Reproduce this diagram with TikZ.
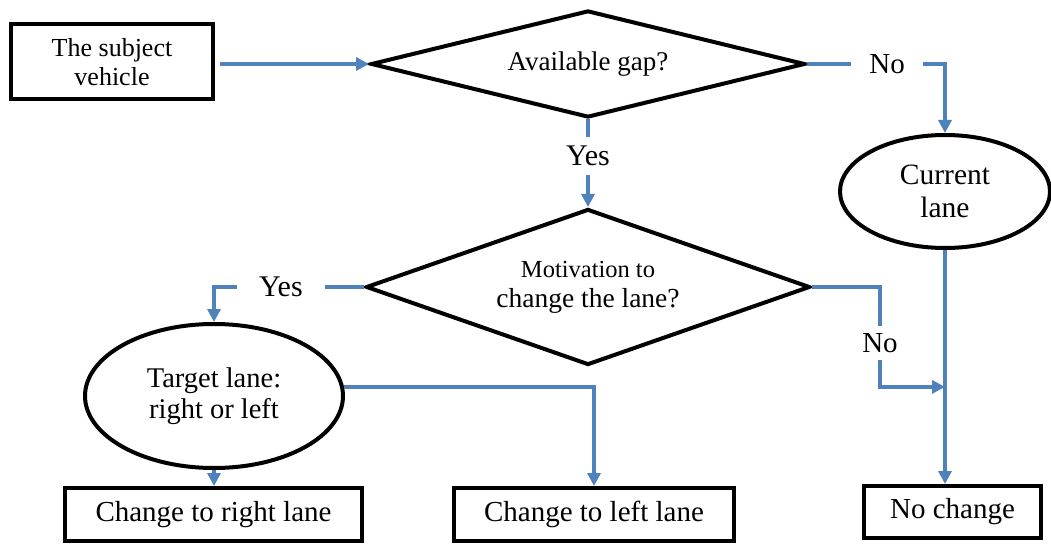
\documentclass[tikz,border=0pt]{standalone}
\usepackage{fontspec}
\setmainfont{Liberation Serif}
\usetikzlibrary{shapes.geometric,arrows.meta,calc}
\definecolor{flowblue}{RGB}{79,129,189}
\newcommand{\setfs}[2]{\fontsize{#1}{#2}\selectfont}
\begin{document}
\begin{tikzpicture}[x=1pt,y=-1pt,
  blk/.style={draw=black,line width=4pt,inner sep=0pt,align=center},
  boxnode/.style={blk,rectangle},
  dia/.style={blk,diamond},
  ell/.style={blk,ellipse},
  conn/.style={draw=flowblue,line width=3.5pt},
  arr/.style={conn,-{Triangle[length=13pt,width=13pt]}},
  lbl/.style={fill=white,inner xsep=18pt,inner ysep=7pt,font=\setfs{29}{30}}
]
\useasboundingbox (0,0) rectangle (1051,545);

% nodes
\node[boxnode,minimum width=202pt,minimum height=75pt,font=\setfs{26}{29}] (subj) at (112,62) {The subject\\vehicle};
\node[dia,aspect=4.11,minimum width=434pt,minimum height=107pt,font=\setfs{27}{28}] (gap) at (588,64) {Available gap?};
\node[dia,aspect=2.88,minimum width=444pt,minimum height=156pt,font=\setfs{27.5}{30}] (mot) at (588,287) {{\setfs{24.5}{30}Motivation to}\\change the lane?};
\node[ell,minimum width=210pt,minimum height=113pt,font=\setfs{29.5}{33}] (cur) at (945,191.5) {Current\\lane};
\node[ell,minimum width=258pt,minimum height=144pt,font=\setfs{28.5}{31}] (tgt) at (214,396) {Target lane:\\right or left};
\node[boxnode,minimum width=297pt,minimum height=53pt,font=\setfs{29}{30}] (right) at (213.5,514.5) {Change to right lane};
\node[boxnode,minimum width=280pt,minimum height=53pt,font=\setfs{29}{30}] (left) at (594,514.5) {Change to left lane};
\node[boxnode,minimum width=177pt,minimum height=52pt,font=\setfs{29}{30}] (noch) at (952.5,512) {No change};

\coordinate (merge) at (cur.south |- tgt.4);

% connectors
\draw[arr] ([xshift=5pt]subj.east |- gap.west) -- (gap.west);
\draw[arr] (gap.east) -| node[lbl,pos=0.29]{No} (cur.north);
\draw[arr] (gap.south) -- node[lbl,pos=0.42,inner ysep=9pt,font=\setfs{30}{30}]{Yes} (mot.north);
\draw[arr] (mot.west) -| node[lbl,pos=0.277,inner xsep=22pt,font=\setfs{30}{30}]{Yes} (tgt.north);
\draw[arr] (tgt.4) -| (left.north);
\draw[arr] (tgt.south) -- (tgt.south |- right.north);
\draw[arr] (cur.south) -- (cur.south |- noch.north);
\draw[arr] (mot.east) -- ++(68pt,0) |- node[lbl,pos=0.28,inner xsep=4pt]{No} (merge);
\end{tikzpicture}
\end{document}
